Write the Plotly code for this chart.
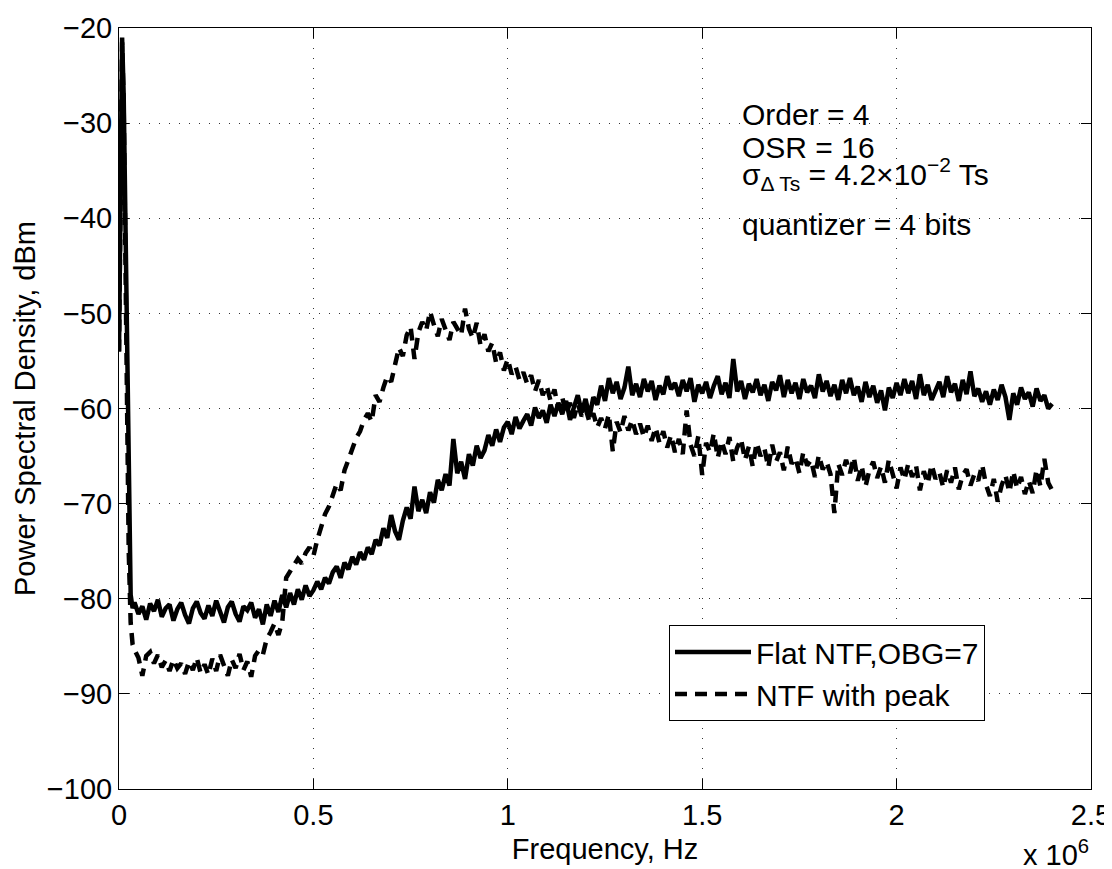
import plotly.graph_objects as go

# Frequency bins (kHz)
FREQ_KHZ = [0, 4, 8, 12, 16, 20, 25, 30, 35,
    40, 50, 60, 70, 80, 90, 100, 110, 120, 130,
    140, 150, 160, 170, 180, 190, 200, 210, 220, 230,
    240, 250, 260, 270, 280, 290, 300, 310, 320, 330,
    340, 350, 360, 370, 380, 390, 400, 410, 420, 430,
    440, 450, 460, 470, 480, 490, 500, 510, 520, 530,
    540, 550, 560, 570, 580, 590, 600, 610, 620, 630,
    640, 650, 660, 670, 680, 690, 700, 710, 720, 730,
    740, 750, 760, 770, 780, 790, 800, 810, 820, 830,
    840, 850, 860, 870, 880, 890, 900, 910, 920, 930,
    940, 950, 960, 970, 980, 990, 1000, 1010, 1020, 1030,
    1040, 1050, 1060, 1070, 1080, 1090, 1100, 1110, 1120, 1130,
    1140, 1150, 1160, 1170, 1180, 1190, 1200, 1210, 1220, 1230,
    1240, 1250, 1260, 1270, 1280, 1290, 1300, 1310, 1320, 1330,
    1340, 1350, 1360, 1370, 1380, 1390, 1400, 1410, 1420, 1430,
    1440, 1450, 1460, 1470, 1480, 1490, 1500, 1510, 1520, 1530,
    1540, 1550, 1560, 1570, 1580, 1590, 1600, 1610, 1620, 1630,
    1640, 1650, 1660, 1670, 1680, 1690, 1700, 1710, 1720, 1730,
    1740, 1750, 1760, 1770, 1780, 1790, 1800, 1810, 1820, 1830,
    1840, 1850, 1860, 1870, 1880, 1890, 1900, 1910, 1920, 1930,
    1940, 1950, 1960, 1970, 1980, 1990, 2000, 2010, 2020, 2030,
    2040, 2050, 2060, 2070, 2080, 2090, 2100, 2110, 2120, 2130,
    2140, 2150, 2160, 2170, 2180, 2190, 2200, 2210, 2220, 2230,
    2240, 2250, 2260, 2270, 2280, 2290, 2300, 2310, 2320, 2330,
    2340, 2350, 2360, 2370, 2380, 2390, 2400]

# Flat NTF, OBG=7 (dBm)
PSD_FLAT = [-54, -38, -21, -27, -40, -55, -70, -79.6, -81.0,
    -80.4, -81.6, -80.8, -82.2, -80.5, -81.3, -80.1, -81.9, -81.0, -80.6,
    -82.3, -81.1, -80.4, -81.7, -82.6, -81.0, -80.3, -81.5, -82.1, -80.7,
    -81.8, -80.2, -81.4, -82.5, -80.9, -80.3, -81.6, -82.4, -80.8, -81.2,
    -80.4, -82.0, -81.1, -82.7, -80.6, -81.8, -80.2, -81.4, -79.6, -80.9,
    -79.4, -80.6, -79.0, -80.1, -78.6, -79.7, -79.1, -78.2, -79.0, -77.8,
    -78.4, -77.2, -76.6, -77.8, -76.2, -76.9, -75.6, -76.4, -75.1, -75.9,
    -74.6, -75.3, -73.8, -74.4, -72.6, -73.6, -71.2, -72.9, -73.8, -71.8,
    -70.4, -71.6, -68.2, -70.8, -69.6, -71.0, -68.8, -69.9, -67.5, -68.6,
    -66.9, -68.1, -63.2, -66.8, -65.6, -67.4, -64.8, -66.0, -63.9, -65.2,
    -64.4, -62.8, -63.9, -62.2, -63.5, -62.0, -61.4, -62.7, -60.9, -62.1,
    -61.3, -60.6, -61.8, -59.9, -61.0, -60.2, -61.5, -59.6, -60.8, -59.4,
    -60.6, -59.2, -61.2, -59.8, -58.6, -60.4, -59.0, -60.9, -58.8, -59.6,
    -57.6, -59.2, -56.8, -58.4, -57.2, -59.0, -57.8, -55.6, -58.6, -57.4,
    -58.8, -56.9, -58.2, -57.1, -59.1, -57.6, -58.5, -56.6, -58.0, -57.3,
    -58.7, -57.0, -58.2, -56.8, -59.3, -57.5, -58.4, -57.2, -58.9, -57.6,
    -56.6, -58.5, -57.3, -58.9, -54.8, -58.2, -57.1, -59.0, -57.4, -58.3,
    -56.9, -58.6, -57.5, -59.2, -57.2, -58.1, -56.5, -58.8, -57.0, -58.4,
    -57.3, -59.0, -56.9, -58.3, -57.6, -58.9, -56.4, -58.2, -57.1, -58.7,
    -57.5, -59.1, -57.0, -58.4, -56.8, -58.6, -57.7, -59.3, -57.2, -58.8,
    -57.6, -59.4, -58.1, -60.2, -57.8, -58.9, -57.3, -58.6, -56.9, -58.4,
    -57.1, -59.0, -56.4, -58.6, -57.5, -59.1, -58.0, -57.2, -58.8, -56.6,
    -58.3, -57.4, -59.2, -57.0, -58.5, -56.1, -58.7, -57.9, -59.3, -58.2,
    -59.6, -58.0, -59.1, -57.5, -58.8, -61.2, -58.4, -59.6, -57.8, -59.0,
    -58.3, -59.8, -57.9, -59.2, -58.6, -60.0, -59.5]

# NTF with peak (dBm)
PSD_PEAK = [-54, -38, -21.5, -28, -42, -58, -75, -82.5, -84.8,
    -85.4, -86.2, -88.1, -86.0, -85.6, -86.8, -85.9, -87.2, -86.5, -87.6,
    -86.4, -87.3, -86.8, -87.9, -86.6, -87.5, -86.2, -87.8, -86.9, -88.0,
    -86.3, -87.6, -85.9, -87.0, -88.1, -86.4, -87.3, -85.8, -87.5, -86.6,
    -88.2, -86.0, -85.4, -85.9, -84.2, -83.5, -82.6, -83.8, -82.4, -77.8,
    -77.2, -76.4, -75.8, -76.3, -75.2, -74.6, -75.5, -73.8, -72.4, -71.1,
    -70.3, -69.2, -67.9, -68.6, -66.5, -65.4, -64.2, -63.1, -62.4, -61.2,
    -60.5, -61.4, -58.6, -59.3, -57.8, -56.6, -57.2, -55.4, -53.6, -54.5,
    -52.3, -51.4, -54.8, -52.0, -50.9, -51.8, -49.8, -51.2, -52.4, -50.6,
    -51.7, -52.8, -50.9, -51.5, -52.3, -49.5, -51.6, -52.6, -51.0, -53.4,
    -52.2, -54.0, -53.1, -55.2, -54.1, -56.0, -54.8, -56.4, -55.6, -57.0,
    -56.2, -57.4, -56.5, -58.2, -57.0, -58.6, -57.6, -59.2, -58.0, -60.1,
    -58.8, -60.6, -59.4, -61.0, -59.5, -60.8, -60.0, -61.4, -60.5, -62.0,
    -61.0, -62.1, -60.6, -64.5, -61.4, -62.5, -60.8, -62.3, -61.2, -62.7,
    -61.6, -63.0, -61.8, -63.4, -62.0, -63.6, -62.4, -64.1, -62.8, -64.6,
    -63.2, -64.8, -60.2, -63.8, -65.0, -62.9, -67.0, -63.6, -64.6, -62.6,
    -65.2, -63.4, -64.8, -63.0, -65.6, -64.1, -63.2, -65.4, -64.0, -66.1,
    -63.6, -65.0, -64.2, -66.2, -63.8, -65.6, -64.6, -66.5, -64.0, -65.8,
    -65.2, -66.8, -64.6, -66.0, -65.4, -67.2, -64.9, -66.4, -65.6, -66.9,
    -71.0, -65.8, -67.0, -65.4, -66.8, -65.1, -67.6, -66.0, -68.2, -66.5,
    -65.6, -67.3, -66.1, -67.8, -65.4, -66.9, -68.4, -66.2, -67.5, -65.8,
    -67.2, -66.0, -68.6, -66.6, -67.9, -65.9, -67.4, -66.7, -68.3, -66.5,
    -67.8, -66.2, -68.5, -67.0, -66.4, -68.1, -66.9, -67.6, -65.9, -68.0,
    -69.2, -67.4, -69.8, -68.1, -67.0, -68.8, -66.6, -68.4, -67.2, -69.0,
    -67.6, -68.9, -66.4, -68.2, -65.3, -67.8, -68.6]

assert len(FREQ_KHZ) == len(PSD_FLAT) == len(PSD_PEAK)

SERIES_NAMES = ["Flat NTF,OBG=7", "NTF with peak"]
XTICK_VALS_MHZ = [0, 0.5, 1, 1.5, 2, 2.5]
XTICK_LABELS = ["0", "0.5", "1", "1.5", "2", "2.5"]
YTICK_VALS = [-100, -90, -80, -70, -60, -50, -40, -30, -20]

ANNOT_LINES = ["Order = 4", "OSR = 16",
               "σ<sub>Δ Ts</sub> = 4.2×10<sup>−2</sup> Ts",
               "quantizer = 4 bits"]
ANNOT_Y_PX = [106, 140, 166, 216]

FONT = "Liberation Sans, Arial, Helvetica, sans-serif"
freq_hz = [f * 1000 for f in FREQ_KHZ]

fig = go.Figure()
fig.add_trace(go.Scatter(x=freq_hz, y=PSD_PEAK, mode="lines", name=SERIES_NAMES[1],
                         line=dict(color="black", width=4.5, dash="12px,8px"),
                         legendrank=2))
fig.add_trace(go.Scatter(x=freq_hz, y=PSD_FLAT, mode="lines", name=SERIES_NAMES[0],
                         line=dict(color="black", width=4.5),
                         legendrank=1))

axis_common = dict(showline=True, linecolor="black", linewidth=1, mirror="ticks",
                   ticks="inside", ticklen=10, tickcolor="black", tickwidth=1,
                   showgrid=True, gridcolor="#333333", griddash="1px,9px", gridwidth=1,
                   zeroline=False, automargin=False,
                   tickfont=dict(size=29, family=FONT, color="black"))

fig.update_xaxes(range=[0, 2.5e6], tickvals=[v * 1e6 for v in XTICK_VALS_MHZ],
                 ticktext=XTICK_LABELS,
                 title=dict(text="Frequency, Hz", font=dict(size=29, family=FONT), standoff=8),
                 **axis_common)
fig.update_yaxes(range=[-100, -20], tickvals=YTICK_VALS,
                 title=dict(text="Power Spectral Density, dBm", font=dict(size=29, family=FONT), standoff=2),
                 **axis_common)

for txt, ypx in zip(ANNOT_LINES, ANNOT_Y_PX):
    fig.add_annotation(text=txt, xref="paper", yref="paper",
                       x=(732 - 111) / 972, y=(781 - ypx) / 761,
                       xanchor="left", yanchor="middle", showarrow=False,
                       font=dict(size=30, family=FONT, color="black"))

fig.add_annotation(text="x 10<sup>6</sup>", xref="paper", yref="paper",
                   x=1.0, y=(781 - 865) / 761, xanchor="right", yanchor="bottom",
                   showarrow=False, font=dict(size=29, family=FONT, color="black"))

fig.update_layout(width=1112, height=869,
                  margin=dict(l=111, r=29, t=20, b=88, autoexpand=False),
                  plot_bgcolor="white", paper_bgcolor="white",
                  font=dict(family=FONT, size=29, color="black"),
                  showlegend=True,
                  legend=dict(x=(661 - 111) / 972, y=(781 - 617) / 761,
                              xanchor="left", yanchor="top",
                              bordercolor="black", borderwidth=1, bgcolor="white",
                              font=dict(size=30, family=FONT, color="black"),
                              itemwidth=76, tracegroupgap=0))

fig.write_html("out.html")
